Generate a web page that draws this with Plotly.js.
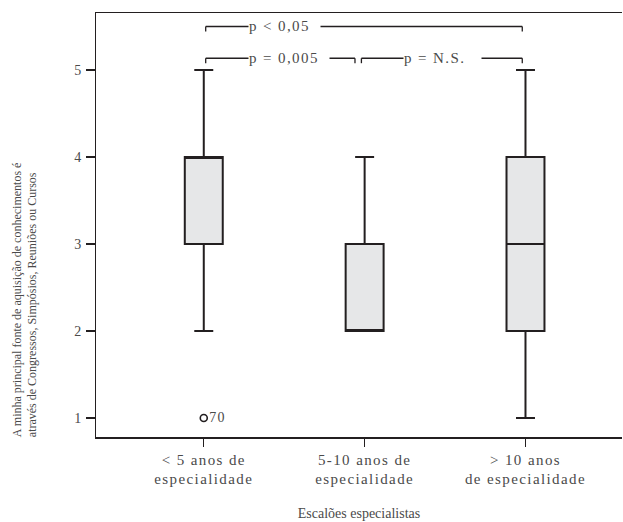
<!DOCTYPE html>
<html>
<head>
<meta charset="utf-8">
<script src="https://cdn.plot.ly/plotly-3.0.1.min.js"></script>
<style>
html,body{margin:0;padding:0;background:#fff;}
#chart{width:623px;height:522px;}
text{letter-spacing:1.4px;}
</style>
</head>
<body>
<div id="chart"></div>
<script>
// Data
var categories = ['&lt; 5 anos de<br>especialidade', '5-10 anos de<br>especialidade', '&gt; 10 anos<br>de especialidade'];
var q1 = [3, 2, 2];
var medians = [4, 2, 3];
var q3 = [4, 3, 4];
var lowerWhisker = [2, 2, 1];
var upperWhisker = [5, 4, 5];
var outlierCategory = [categories[0]];
var outlierValue = [1];
var outlierLabel = ['70'];
var yTicks = [1, 2, 3, 4, 5];
var bracketFrom = [0, 1, 0];
var bracketTo = [1, 2, 2];
var bracketLevel = [5.135, 5.135, 5.50];
var bracketLabels = ['p = 0,005', 'p = N.S.', 'p &lt; 0,05'];
var yTitleLines = ['A minha principal fonte de aquisição de conhecimentos é', 'através de Congressos, Simpósios, Reuniões ou Cursos'];
var xTitle = 'Escalões especialistas';

var ink = '#231f20';
var textCol = '#4a4a4a';
var fontFam = 'Liberation Serif, Times New Roman, serif';
var noTrack = function (s) { return '<span style="letter-spacing:0px">' + s + '</span>'; };

var traces = [
  {
    type: 'box',
    x: categories,
    q1: q1,
    median: medians,
    q3: q3,
    lowerfence: lowerWhisker,
    upperfence: upperWhisker,
    width: 0.236,
    whiskerwidth: 0.5,
    fillcolor: '#e6e7e8',
    line: {color: ink, width: 2},
    boxpoints: false,
    hoverinfo: 'skip',
    showlegend: false
  },
  {
    type: 'scatter',
    mode: 'markers+text',
    x: outlierCategory,
    y: outlierValue,
    text: outlierLabel,
    textposition: 'middle right',
    textfont: {family: fontFam, size: 14, color: textCol},
    marker: {symbol: 'circle-open', size: 7, color: ink, line: {width: 1.6, color: ink}},
    cliponaxis: false,
    showlegend: false,
    hoverinfo: 'skip'
  }
];

var shapes = [];
var annotations = [];
var tickDrop = 0.057;
for (var i = 0; i < bracketFrom.length; i++) {
  var left = bracketFrom[i] + (bracketFrom[i] === 1 ? -0.02 : 0.012);
  var right = bracketTo[i] - (bracketTo[i] === 1 ? 0.06 : 0.02);
  var yv = bracketLevel[i];
  var ln = {color: ink, width: 1.3};
  shapes.push({type: 'line', xref: 'x', yref: 'y', x0: left, x1: right, y0: yv, y1: yv, line: ln});
  shapes.push({type: 'line', xref: 'x', yref: 'y', x0: left, x1: left, y0: yv, y1: yv - tickDrop, line: ln});
  shapes.push({type: 'line', xref: 'x', yref: 'y', x0: right, x1: right, y0: yv, y1: yv - tickDrop, line: ln});
  var trail = bracketTo[i] === 2 && bracketFrom[i] === 1 ? '\u00a0\u00a0\u00a0' : '\u00a0\u00a0';
  annotations.push({
    xref: 'x', yref: 'y', x: left + 0.26, y: yv,
    xanchor: 'left', yanchor: 'middle',
    text: bracketLabels[i] + trail,
    showarrow: false,
    bgcolor: '#ffffff',
    borderpad: 0,
    font: {family: fontFam, size: 15, color: textCol}
  });
}

annotations.push({
  xref: 'paper', yref: 'paper', x: -0.135, y: 0.325,
  xanchor: 'center', yanchor: 'middle',
  textangle: -90, align: 'left',
  text: yTitleLines.map(noTrack).join('<br>'),
  showarrow: false,
  font: {family: fontFam, size: 12, color: textCol}
});

var layout = {
  width: 623, height: 522,
  margin: {l: 96, r: 1, t: 13, b: 85},
  paper_bgcolor: '#ffffff',
  plot_bgcolor: '#ffffff',
  showlegend: false,
  xaxis: {
    type: 'category',
    range: [-0.67, 2.6],
    showline: true, linecolor: ink, linewidth: 1.5,
    mirror: true,
    ticks: 'outside', ticklen: 8, tickcolor: ink, tickwidth: 1.3,
    showgrid: false, zeroline: false,
    tickfont: {family: fontFam, size: 15, color: textCol},
    title: {text: noTrack(xTitle), font: {family: fontFam, size: 14, color: textCol}, standoff: 22}
  },
  yaxis: {
    range: [0.782, 5.655],
    tickvals: yTicks,
    showline: true, linecolor: ink, linewidth: 1.5,
    ticks: 'outside', ticklen: 9, tickcolor: ink, tickwidth: 1.3,
    showgrid: false, zeroline: false,
    tickfont: {family: fontFam, size: 14, color: textCol}
  },
  shapes: shapes,
  annotations: annotations
};

Plotly.newPlot('chart', traces, layout, {staticPlot: true, displayModeBar: false});
</script>
</body>
</html>
